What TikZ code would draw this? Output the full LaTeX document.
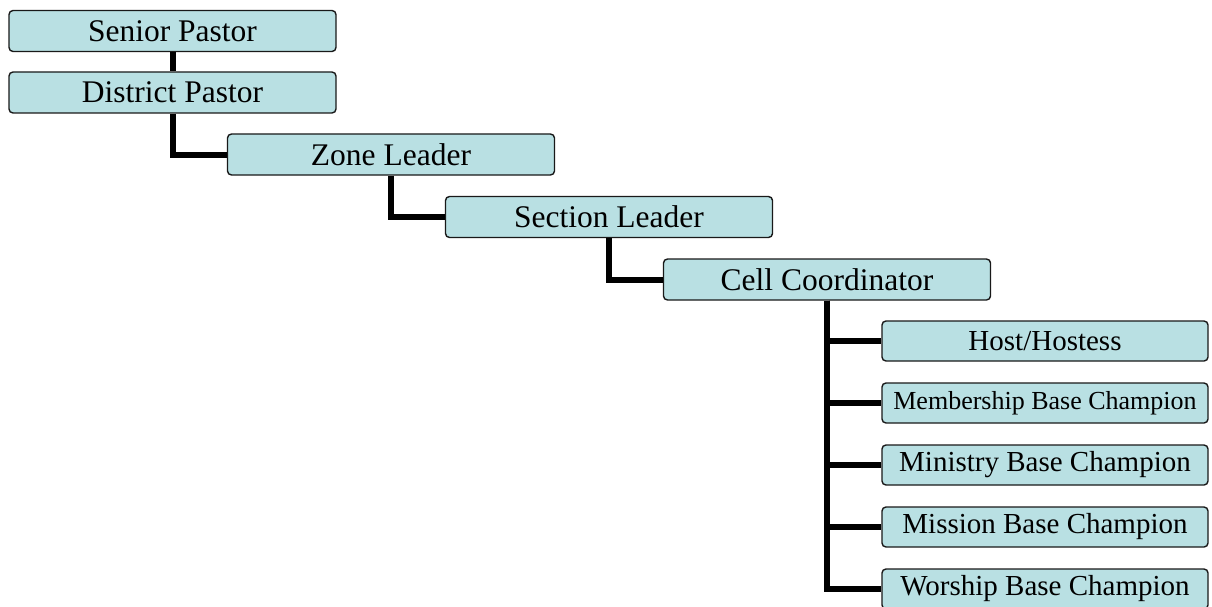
\documentclass[tikz,border=0pt]{standalone}
\usepackage{fontspec}
\setmainfont{Liberation Serif}
\usepackage{xcolor}
\usepackage{tikz}
\usetikzlibrary{positioning}

\definecolor{boxfill}{RGB}{185,224,227}
\definecolor{boxline}{RGB}{25,25,25}

\begin{document}
\begin{tikzpicture}[x=1pt,y=-1pt,
    rank/.style={draw=boxline,fill=boxfill,line width=1.4pt,rounded corners=4pt,
      minimum width=327pt,minimum height=41pt,inner sep=0pt,
      font=\fontsize{31.5}{34}\selectfont},
    base/.style={rank,minimum width=326pt,minimum height=40pt,
      font=\fontsize{29}{32}\selectfont},
    link/.style={line width=6pt}]
  \useasboundingbox (0,0) rectangle (1212,607);
  % chain of leaders
  \node[rank] (senior) at (172.5,31) {Senior Pastor};
  \node[rank] (district) at (172.5,92.5) {District Pastor};
  \node[rank] (zone) at (391,154.5) {Zone Leader};
  \node[rank] (section) at (609,217) {Section Leader};
  \node[rank] (cell) at (827,279.5) {Cell Coordinator};
  % base champions under the cell
  \node[base] (host) at (1045,341) {Host/Hostess};
  \node[base,font=\fontsize{26}{29}\selectfont] (member) at (1045,403) {Membership Base Champion};
  \node[base] (ministry) at (1045,465) {Ministry Base Champion};
  \node[base] (mission) at (1045,527) {Mission Base Champion};
  \node[base] (worship) at (1045,589) {Worship Base Champion};
  % connectors
  \draw[link] (senior) -- (district);
  \draw[link] (district.south) |- (zone.west);
  \draw[link] (zone.south) |- (section.west);
  \draw[link] (section.south) |- (cell.west);
  \foreach \n in {host,member,ministry,mission,worship}
    \draw[link] (cell.south) |- (\n.west);
\end{tikzpicture}
\end{document}
